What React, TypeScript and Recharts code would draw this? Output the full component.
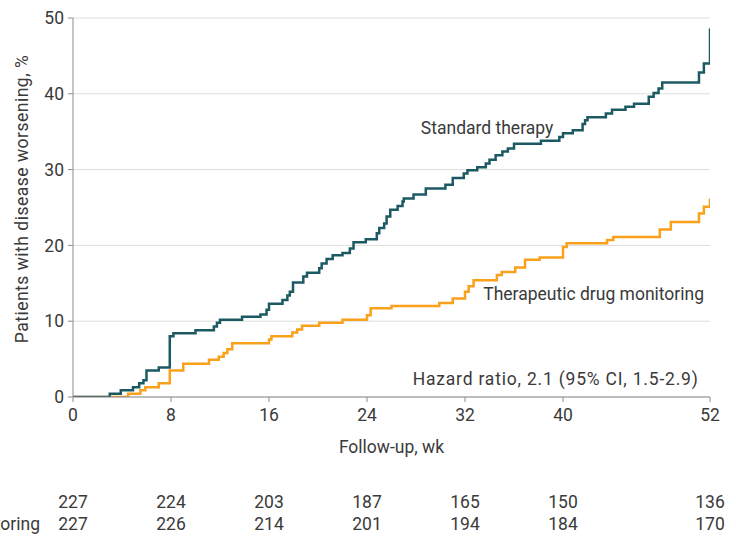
import React from 'react';
import { LineChart, Line, XAxis, YAxis, CartesianGrid, ReferenceDot } from 'recharts';

const FONT = 'Roboto, "Open Sans", sans-serif';
const TEXT = '#3a3a3a';
const AXIS = '#8c8c8c';
const TEAL = '#1c5a63';
const ORANGE = '#f9a11b';
const FS = 17.5;

const weekTicks = [0, 8, 16, 24, 32, 40, 52];
const pctTicks = [0, 10, 20, 30, 40, 50];

const stdWeeks = [0, 3.0, 3.9, 4.9, 5.4, 5.75, 6.0, 7.0, 7.9, 8.2, 10.0, 11.5, 11.75, 12.0, 13.8, 15.3, 15.8, 16.0, 17.1, 17.5, 17.7, 17.96, 18.8, 19.1, 20.1, 20.3, 20.7, 21.2, 22.0, 22.6, 22.9, 23.9, 24.8, 25.0, 25.4, 25.6, 25.9, 26.5, 26.9, 27.0, 27.8, 28.8, 30.4, 31.0, 31.9, 32.2, 33.0, 33.7, 34.0, 34.5, 35.05, 35.5, 36.0, 38.2, 39.7, 40.0, 40.8, 41.6, 41.8, 42.0, 43.5, 44.0, 45.1, 45.8, 47.0, 47.4, 47.8, 48.1, 51.1, 51.5, 52.0];
const stdPct = [0, 0.44, 0.88, 1.3, 1.8, 2.2, 3.5, 3.9, 8.0, 8.4, 8.8, 9.3, 9.8, 10.2, 10.6, 10.9, 11.5, 12.3, 12.8, 13.4, 13.9, 15.1, 15.9, 16.4, 17.0, 17.6, 18.2, 18.7, 19.0, 19.6, 20.4, 20.8, 21.6, 22.3, 22.9, 23.8, 24.7, 25.2, 25.8, 26.2, 26.7, 27.5, 28.0, 28.9, 29.5, 29.9, 30.3, 30.8, 31.3, 31.9, 32.4, 32.8, 33.4, 33.8, 34.3, 34.8, 35.2, 36.0, 36.5, 36.9, 37.4, 37.9, 38.3, 38.7, 39.6, 40.1, 40.7, 41.5, 42.8, 44.0, 48.6];

const tdmWeeks = [0, 4.5, 5.5, 5.9, 7.0, 7.9, 9.0, 11.1, 11.9, 12.3, 12.6, 13.0, 16.0, 16.2, 17.9, 18.3, 18.7, 20.1, 22.0, 24.0, 24.3, 26.0, 29.9, 31.0, 32.0, 32.3, 32.7, 34.6, 35.0, 36.1, 36.9, 38.1, 40.0, 40.3, 43.6, 44.1, 47.9, 48.8, 51.1, 51.5, 52.0];
const tdmPct = [0, 0.44, 0.88, 1.3, 1.8, 3.5, 4.4, 4.9, 5.3, 5.8, 6.3, 7.1, 7.6, 8.0, 8.5, 8.9, 9.4, 9.8, 10.2, 10.8, 11.7, 12.0, 12.4, 13.0, 13.9, 14.6, 15.4, 16.1, 16.5, 17.1, 18.1, 18.4, 19.8, 20.3, 20.7, 21.1, 22.1, 23.1, 24.2, 25.1, 26.2];

const atRiskStd = [227, 224, 203, 187, 165, 150, 136];
const atRiskTdm = [227, 226, 214, 201, 194, 184, 170];

const stdData = stdWeeks.map((t, i) => ({ t, v: stdPct[i] }));
const tdmData = tdmWeeks.map((t, i) => ({ t, v: tdmPct[i] }));
const riskStdData = weekTicks.map((t, i) => ({ t, n: atRiskStd[i] }));
const riskTdmData = weekTicks.map((t, i) => ({ t, n: atRiskTdm[i] }));

const makeRiskTick = (counts: number[], rowLabel?: string) => (props: any) => {
  const { x, y, index } = props;
  return (
    <g>
      <text x={x} y={y} dy="0.71em" textAnchor="middle" fill={TEXT} fontSize={FS} fontFamily={FONT}>
        {counts[index]}
      </text>
      {index === 0 && rowLabel ? (
        <text x={40} y={y} dy="0.71em" textAnchor="end" fill={TEXT} fontSize={FS} fontFamily={FONT}>
          {rowLabel}
        </text>
      ) : null}
    </g>
  );
};

const YLabel = () => (
  <text
    x={22}
    y={199}
    transform="rotate(-90 22 199)"
    textAnchor="middle"
    dominantBaseline="central"
    fill={TEXT}
    fontSize={FS}
    fontFamily={FONT}
    letterSpacing={0.5}
  >
    Patients with disease worsening, %
  </text>
);

const tickStyle = { fill: TEXT, fontSize: FS, fontFamily: FONT };
const noteStyle = { fill: TEXT, fontSize: FS, fontFamily: FONT };
const hrStyle = { fill: TEXT, fontSize: FS, fontFamily: FONT, letterSpacing: 0.8 };

export default function App() {
  return (
    <div style={{ position: 'absolute', left: 0, top: 0, width: 736, height: 536, background: '#fff' }}>
      <LineChart width={736} height={536} margin={{ top: 18, right: 26, bottom: 4, left: 0 }}>
        <CartesianGrid vertical={false} stroke="#dddddd" />
        <XAxis
          dataKey="t"
          type="number"
          domain={[0, 52]}
          ticks={weekTicks}
          allowDataOverflow
          height={60}
          stroke={AXIS}
          tickSize={5}
          tickMargin={7}
          tick={tickStyle}
          label={{ value: 'Follow-up, wk', position: 'insideBottom', offset: 4, style: noteStyle }}
        />
        <XAxis
          xAxisId="r1"
          dataKey="t"
          type="number"
          domain={[0, 52]}
          ticks={weekTicks}
          allowDataOverflow
          height={45}
          axisLine={false}
          tickLine={false}
          tickSize={0}
          tickMargin={39}
          tick={makeRiskTick(atRiskStd)}
        />
        <XAxis
          xAxisId="r2"
          dataKey="t"
          type="number"
          domain={[0, 52]}
          ticks={weekTicks}
          allowDataOverflow
          height={30}
          axisLine={false}
          tickLine={false}
          tickSize={0}
          tickMargin={16}
          tick={makeRiskTick(atRiskTdm, 'Therapeutic drug monitoring')}
        />
        <YAxis
          type="number"
          domain={[0, 50]}
          ticks={pctTicks}
          width={73}
          stroke={AXIS}
          tickSize={5}
          tickMargin={4}
          tick={tickStyle}
          allowDataOverflow
          label={<YLabel />}
        />
        <Line
          xAxisId="r1"
          data={riskStdData}
          dataKey="n"
          stroke="none"
          strokeWidth={0}
          dot={false}
          activeDot={false}
          legendType="none"
          isAnimationActive={false}
        />
        <Line
          xAxisId="r2"
          data={riskTdmData}
          dataKey="n"
          stroke="none"
          strokeWidth={0}
          dot={false}
          activeDot={false}
          legendType="none"
          isAnimationActive={false}
        />
        <Line
          data={tdmData}
          dataKey="v"
          type="stepAfter"
          stroke={ORANGE}
          strokeWidth={2.5}
          dot={false}
          isAnimationActive={false}
        />
        <Line
          data={stdData}
          dataKey="v"
          type="stepAfter"
          stroke={TEAL}
          strokeWidth={2.5}
          dot={false}
          isAnimationActive={false}
        />
        <ReferenceDot x={33.8} y={35.5} r={0} fill="none" stroke="none"
          label={{ value: 'Standard therapy', position: 'center', style: noteStyle }} />
        <ReferenceDot x={42.5} y={13.6} r={0} fill="none" stroke="none"
          label={{ value: 'Therapeutic drug monitoring', position: 'center', style: noteStyle }} />
        <ReferenceDot x={39.4} y={2.4} r={0} fill="none" stroke="none"
          label={{ value: 'Hazard ratio, 2.1 (95% CI, 1.5-2.9)', position: 'center', style: hrStyle }} />
      </LineChart>
    </div>
  );
}
